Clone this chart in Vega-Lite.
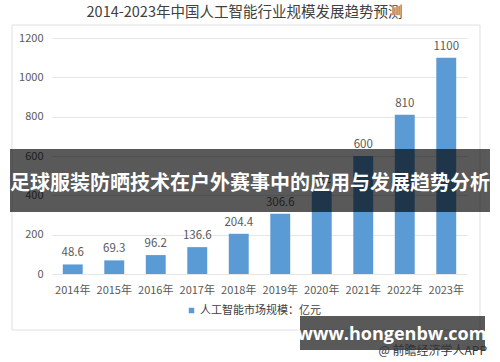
{
  "$schema": "https://vega.github.io/schema/vega-lite/v6.json",
  "width": 415,
  "height": 236,
  "autosize": {"type": "none"},
  "padding": {"left": 52, "top": 38, "right": 33, "bottom": 88},
  "background": "#ffffff",
  "config": {
    "view": {"stroke": null},
    "font": "Noto Sans CJK SC",
    "axisY": {"grid": true, "gridColor": "#e6e6e6", "domain": false, "ticks": false, "labelPadding": 9, "labelColor": "#595959", "labelFontSize": 11, "labelFont": "Noto Sans CJK SC", "title": null, "labelOverlap": false, "tickCount": 7}
  },
  "title": {
    "text": "2014-2023年中国人工智能行业规模发展趋势预测",
    "fontSize": 14.5,
    "fontWeight": "normal",
    "font": "Noto Sans CJK SC",
    "color": "#404040",
    "anchor": "middle",
    "dx": -15,
    "offset": 4
  },
  "resolve": {"scale": {"x": "independent"}},
  "datasets": {
    "market": [
      {"year": "2014年", "value": 48.6, "series": "人工智能市场规模：亿元"},
      {"year": "2015年", "value": 69.3, "series": "人工智能市场规模：亿元"},
      {"year": "2016年", "value": 96.2, "series": "人工智能市场规模：亿元"},
      {"year": "2017年", "value": 136.6, "series": "人工智能市场规模：亿元"},
      {"year": "2018年", "value": 204.4, "series": "人工智能市场规模：亿元"},
      {"year": "2019年", "value": 306.6, "series": "人工智能市场规模：亿元"},
      {"year": "2020年", "value": 422, "series": "人工智能市场规模：亿元"},
      {"year": "2021年", "value": 600, "series": "人工智能市场规模：亿元"},
      {"year": "2022年", "value": 810, "series": "人工智能市场规模：亿元"},
      {"year": "2023年", "value": 1100, "series": "人工智能市场规模：亿元"}
    ]
  },
  "layer": [
    {
      "data": {"values": [{"item": "frame"}]},
      "mark": {"type": "rect", "filled": false, "stroke": "#e0e0e0", "strokeWidth": 1},
      "encoding": {
        "x": {"datum": -0.0964, "type": "quantitative", "scale": {"domain": [0, 1], "nice": false, "zero": false}, "axis": null},
        "x2": {"datum": 1.0313},
        "y": {"datum": 1266, "type": "quantitative", "scale": {"domain": [0, 1200], "nice": false}, "axis": {"values": [0, 200, 400, 600, 800, 1000, 1200], "format": "d"}},
        "y2": {"datum": -285}
      }
    },
    {
      "data": {"name": "market"},
      "mark": {"type": "bar", "color": "#5b9bd5"},
      "encoding": {
        "x": {"field": "year", "type": "nominal", "sort": null, "scale": {"paddingInner": 0.52, "paddingOuter": 0.26}, "axis": {"labelAngle": 0, "domain": false, "ticks": false, "labelPadding": 10, "labelColor": "#595959", "labelFontSize": 11, "labelFont": "Noto Sans CJK SC", "title": null}},
        "y": {"field": "value", "type": "quantitative", "scale": {"domain": [0, 1200], "nice": false}, "axis": {"values": [0, 200, 400, 600, 800, 1000, 1200], "format": "d"}},
        "color": {"field": "series", "type": "nominal", "scale": {"range": ["#5b9bd5"]}, "legend": {"orient": "none", "legendX": 134, "legendY": 267, "title": null, "symbolType": "square", "symbolSize": 30, "padding": 0, "symbolOffset": 0, "labelOffset": 3, "labelFontSize": 11, "labelColor": "#404040", "labelFont": "Noto Sans CJK SC"}}
      }
    },
    {
      "data": {"name": "market"},
      "mark": {"type": "text", "baseline": "bottom", "dy": -6, "fontSize": 11.5, "color": "#595959", "font": "Noto Sans CJK SC"},
      "encoding": {
        "x": {"field": "year", "type": "nominal", "sort": null, "scale": {"paddingInner": 0.52, "paddingOuter": 0.26}, "axis": null},
        "y": {"field": "value", "type": "quantitative", "axis": {"values": [0, 200, 400, 600, 800, 1000, 1200], "format": "d"}},
        "text": {"field": "value", "type": "quantitative"}
      }
    },
    {
      "data": {"values": [{"item": "banner"}]},
      "mark": {"type": "rect", "fill": "#000000", "fillOpacity": 0.65},
      "encoding": {
        "x": {"datum": -0.1012, "type": "quantitative", "scale": {"domain": [0, 1], "nice": false, "zero": false}, "axis": null},
        "x2": {"datum": 1.0554},
        "y": {"datum": 636, "type": "quantitative", "axis": {"values": [0, 200, 400, 600, 800, 1000, 1200], "format": "d"}},
        "y2": {"datum": 315}
      }
    },
    {
      "data": {"values": [{"label": "足球服装防晒技术在户外赛事中的应用与发展趋势分析"}]},
      "mark": {"type": "text", "baseline": "middle", "align": "center", "fontSize": 20, "fontWeight": "bold", "color": "#ffffff", "font": "Noto Sans CJK SC"},
      "encoding": {
        "x": {"datum": 0.4771, "type": "quantitative", "scale": {"domain": [0, 1], "nice": false, "zero": false}, "axis": null},
        "y": {"datum": 457, "type": "quantitative", "axis": {"values": [0, 200, 400, 600, 800, 1000, 1200], "format": "d"}},
        "text": {"field": "label"}
      }
    },
    {
      "data": {"values": [{"item": "watermark"}]},
      "mark": {"type": "rect", "fill": "#000000", "fillOpacity": 0.65},
      "encoding": {
        "x": {"datum": 0.5976, "type": "quantitative", "scale": {"domain": [0, 1], "nice": false, "zero": false}, "axis": null},
        "x2": {"datum": 1.0434},
        "y": {"datum": -213, "type": "quantitative", "axis": {"values": [0, 200, 400, 600, 800, 1000, 1200], "format": "d"}},
        "y2": {"datum": -386}
      }
    },
    {
      "data": {"values": [{"label": "www.hongenbw.com"}]},
      "mark": {"type": "text", "baseline": "middle", "align": "center", "fontSize": 18, "fontWeight": "bold", "color": "#ffffff", "font": "Open Sans"},
      "encoding": {
        "x": {"datum": 0.8193, "type": "quantitative", "scale": {"domain": [0, 1], "nice": false, "zero": false}, "axis": null},
        "y": {"datum": -308, "type": "quantitative", "axis": {"values": [0, 200, 400, 600, 800, 1000, 1200], "format": "d"}},
        "text": {"field": "label"}
      }
    },
    {
      "data": {"values": [{"label": "@ 前瞻经济学人APP"}]},
      "mark": {"type": "text", "baseline": "middle", "align": "right", "fontSize": 12, "color": "#333333", "font": "Noto Sans CJK SC"},
      "encoding": {
        "x": {"datum": 1.0482, "type": "quantitative", "scale": {"domain": [0, 1], "nice": false, "zero": false}, "axis": null},
        "y": {"datum": -393, "type": "quantitative", "axis": {"values": [0, 200, 400, 600, 800, 1000, 1200], "format": "d"}},
        "text": {"field": "label"}
      }
    }
  ]
}
